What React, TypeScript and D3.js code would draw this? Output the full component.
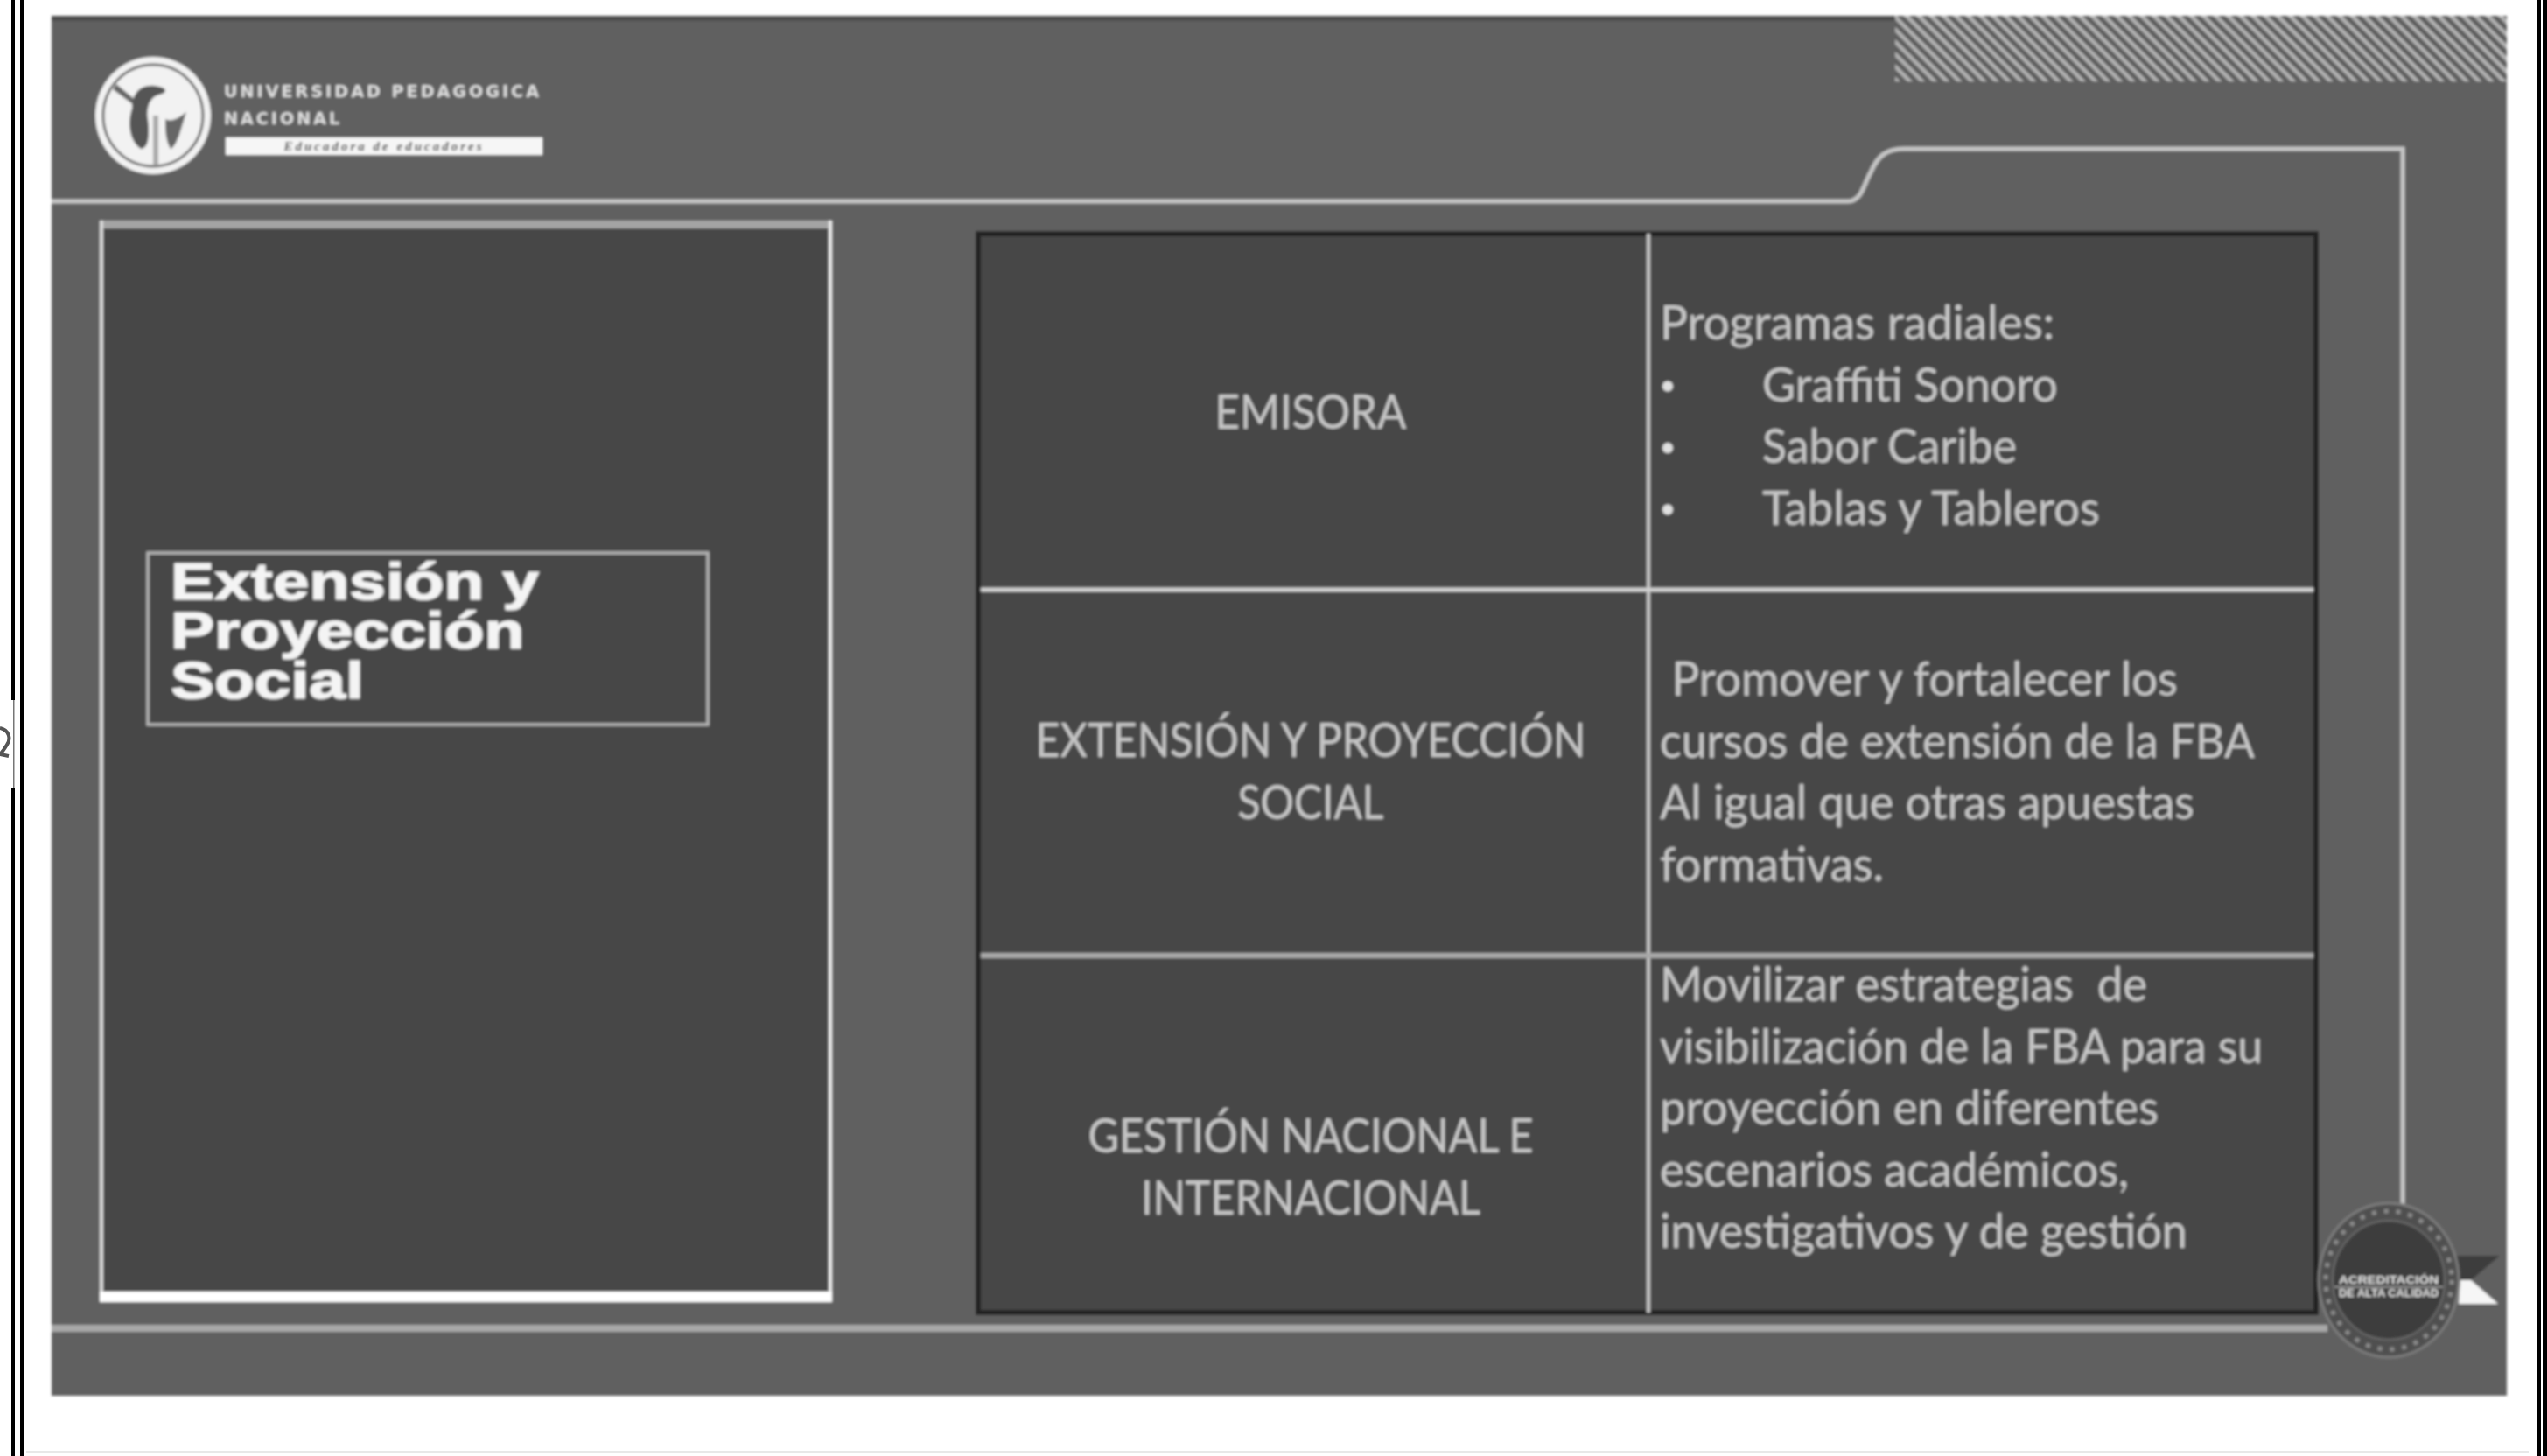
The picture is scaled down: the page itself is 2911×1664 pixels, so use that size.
import { useEffect, useRef } from "react";
import * as d3 from "d3";

// table content
const leftCells = [
  ["EMISORA"],
  ["EXTENSIÓN Y PROYECCIÓN", "SOCIAL"],
  ["GESTIÓN NACIONAL E", "INTERNACIONAL"],
];
const rightIntro = ["Programas radiales:"];
const radioPrograms = ["Graffiti Sonoro", "Sabor Caribe", "Tablas y Tableros"];
const rightMiddle = [
  " Promover y fortalecer los",
  "cursos de extensión de la FBA",
  "Al igual que otras apuestas",
  "formativas.",
];
const rightBottom = [
  "Movilizar estrategias  de",
  "visibilización de la FBA para su",
  "proyección en diferentes",
  "escenarios académicos,",
  "investigativos y de gestión",
];
const titleLines = ["Extensión y", "Proyección", "Social"];
const logoLines = ["UNIVERSIDAD PEDAGOGICA", "NACIONAL"];
const logoMotto = "Educadora de educadores";
const badgeLines = ["ACREDITACIÓN", "DE ALTA CALIDAD"];

const W = 2911;
const H = 1664;
const BODY_FONT = "Lato, 'Open Sans', sans-serif";
const HEAD_FONT = "'Liberation Sans', Arial, sans-serif";

const slide = { x0: 59, x1: 2865, y0: 18, y1: 1595 };
const panel = { x0: 116, x1: 949, y0: 257, y1: 1482 };
const table = { x0: 1118, x1: 2647, y0: 267, y1: 1500, split: 1884 };
const rowEdges = [267, 674, 1092, 1500];
const lineStep = 70.5;

// the slide font is narrower than Lato, so each line is fitted to its measured width
const lineWidth: Record<string, number> = {
  EMISORA: 219,
  "EXTENSIÓN Y PROYECCIÓN": 629,
  SOCIAL: 167,
  "GESTIÓN NACIONAL E": 509,
  INTERNACIONAL: 388,
  "Programas radiales:": 451,
  "Graffiti Sonoro": 338,
  "Sabor Caribe": 291,
  "Tablas y Tableros": 386,
  " Promover y fortalecer los": 592,
  "cursos de extensión de la FBA": 680,
  "Al igual que otras apuestas": 611,
  "formativas.": 256,
  "Movilizar estrategias  de": 557,
  "visibilización de la FBA para su": 689,
  "proyección en diferentes": 570,
  "escenarios académicos,": 536,
  "investigativos y de gestión": 603,
};

export default function App() {
  const ref = useRef<SVGSVGElement>(null);

  useEffect(() => {
    const svg = d3.select(ref.current);
    svg.selectAll("*").remove();

    const defs = svg.append("defs");
    defs
      .append("filter")
      .attr("id", "soft")
      .attr("x", "-5%")
      .attr("y", "-5%")
      .attr("width", "110%")
      .attr("height", "110%")
      .append("feGaussianBlur")
      .attr("stdDeviation", 1.5);
    const hatch = defs
      .append("pattern")
      .attr("id", "hatch")
      .attr("patternUnits", "userSpaceOnUse")
      .attr("width", 10)
      .attr("height", 10)
      .attr("patternTransform", "rotate(45)");
    hatch.append("rect").attr("width", 10).attr("height", 10).attr("fill", "#5c5c5c");
    hatch.append("rect").attr("width", 10).attr("height", 4.4).attr("fill", "#b4b4b4");

    svg.append("rect").attr("width", W).attr("height", H).attr("fill", "#fff");

    // scan frame lines on both page edges
    const frame = svg.append("g").attr("fill", "#000");
    frame.append("rect").attr("x", 13).attr("width", 4).attr("height", H);
    frame.append("rect").attr("x", 23).attr("width", 5).attr("height", H);
    frame.append("rect").attr("x", 2899).attr("width", 5).attr("height", H);
    frame.append("rect").attr("x", 2906).attr("width", 5).attr("height", H);
    svg.append("rect").attr("x", 30).attr("y", 1658).attr("width", 2860).attr("height", 2).attr("fill", "#e8e8e8");

    // torn bit of the scan on the left edge, the thin line breaks there
    svg.append("rect").attr("x", 11).attr("y", 800).attr("width", 8).attr("height", 100).attr("fill", "#fff");
    svg.append("rect").attr("x", 15).attr("y", 800).attr("width", 1.5).attr("height", 100).attr("fill", "#777");
    svg
      .append("path")
      .attr("d", "M0,832C10,834 13,844 8,851C5,856 2,860 0,862M0,862L10,864")
      .attr("fill", "none")
      .attr("stroke", "#555")
      .attr("stroke-width", 4);

    const g = svg.append("g").attr("filter", "url(#soft)");

    g.append("rect")
      .attr("x", slide.x0)
      .attr("y", slide.y0)
      .attr("width", slide.x1 - slide.x0)
      .attr("height", slide.y1 - slide.y0)
      .attr("fill", "#606060");
    g.append("rect")
      .attr("x", slide.x0)
      .attr("y", slide.y0)
      .attr("width", slide.x1 - slide.x0)
      .attr("height", 6)
      .attr("fill", "#4e4e4e");
    g.append("rect")
      .attr("x", 2166)
      .attr("y", slide.y0)
      .attr("width", slide.x1 - 2166)
      .attr("height", 75)
      .attr("fill", "url(#hatch)");

    // header rule with its step up, and the bottom rule
    const rule = d3
      .line<[number, number]>()
      .x((d) => d[0])
      .y((d) => d[1]);
    g.append("path")
      .attr(
        "d",
        `${rule([[slide.x0, 230], [2112, 230]])}C2128,230 2130,210 2138,197C2146,178 2156,170 2176,170${rule([[2176, 170], [2746, 170], [2746, 1390]])!.replace("M", "L")}`
      )
      .attr("fill", "none")
      .attr("stroke", "#c6c6c6")
      .attr("stroke-width", 5);
    g.append("path")
      .attr("d", rule([[slide.x0, 1518], [2660, 1518]]))
      .attr("fill", "none")
      .attr("stroke", "#a8a8a8")
      .attr("stroke-width", 8);

    // left panel
    g.append("rect")
      .attr("x", panel.x0)
      .attr("y", panel.y0)
      .attr("width", panel.x1 - panel.x0)
      .attr("height", panel.y1 - panel.y0)
      .attr("fill", "#464646");
    g.append("rect").attr("x", panel.x0 - 2).attr("y", 252).attr("width", panel.x1 - panel.x0 + 4).attr("height", 9).attr("fill", "#a4a4a4");
    g.append("rect").attr("x", panel.x0 - 2).attr("y", 252).attr("width", 4).attr("height", 1236).attr("fill", "#d8d8d8");
    g.append("rect").attr("x", panel.x1 - 2).attr("y", 252).attr("width", 4).attr("height", 1236).attr("fill", "#e8e8e8");
    g.append("rect").attr("x", panel.x0 - 2).attr("y", 1476).attr("width", panel.x1 - panel.x0 + 4).attr("height", 12).attr("fill", "#fff");

    g.append("rect")
      .attr("x", 169)
      .attr("y", 632)
      .attr("width", 640)
      .attr("height", 196)
      .attr("fill", "none")
      .attr("stroke", "#b4b4b4")
      .attr("stroke-width", 3.5);
    g.append("g")
      .attr("transform", "translate(195,0) scale(1.25,1)")
      .selectAll("text")
      .data(titleLines)
      .join("text")
      .attr("y", (_, i) => 685 + i * 56.5)
      .attr("font-family", HEAD_FONT)
      .attr("font-weight", 700)
      .attr("font-size", 60)
      .attr("fill", "#f4f4f4")
      .attr("stroke", "#f4f4f4")
      .attr("stroke-width", 1.2)
      .text((d) => d);

    // table
    g.append("rect")
      .attr("x", table.x0)
      .attr("y", table.y0)
      .attr("width", table.x1 - table.x0)
      .attr("height", table.y1 - table.y0)
      .attr("fill", "#464646")
      .attr("stroke", "#222")
      .attr("stroke-width", 6);
    g.append("line")
      .attr("x1", table.split)
      .attr("x2", table.split)
      .attr("y1", table.y0)
      .attr("y2", table.y1)
      .attr("stroke", "#c4c4c4")
      .attr("stroke-width", 4);
    g.selectAll("line.row")
      .data(rowEdges.slice(1, 3))
      .join("line")
      .attr("class", "row")
      .attr("x1", table.x0 + 3)
      .attr("x2", table.x1 - 3)
      .attr("y1", (d) => d)
      .attr("y2", (d) => d)
      .attr("stroke", (_, i) => (i === 0 ? "#d0d0d0" : "#a8a8a8"))
      .attr("stroke-width", (_, i) => (i === 0 ? 5 : 6));

    const bodyText = (sel: any) =>
      sel
        .attr("font-family", BODY_FONT)
        .attr("font-size", 54)
        .attr("fill", "#c6c6c6")
        .attr("textLength", (d: string) => lineWidth[d])
        .attr("lengthAdjust", "spacingAndGlyphs")
        .style("white-space", "pre");

    // left column, centred in the cell
    const leftBase = [490, 865, 1317];
    leftCells.forEach((lines, r) => {
      g.append("g")
        .selectAll("text")
        .data(lines)
        .join("text")
        .attr("x", 1498)
        .attr("y", (_, i) => leftBase[r] + i * lineStep)
        .attr("text-anchor", "middle")
        .call(bodyText)
        .text((d) => d);
    });

    // right column
    const rightX = 1897;
    const addLines = (lines: string[], first: number, x = rightX) =>
      g
        .append("g")
        .selectAll("text")
        .data(lines)
        .join("text")
        .attr("x", x)
        .attr("y", (_, i) => first + i * lineStep)
        .call(bodyText)
        .text((d) => d);
    addLines(rightIntro, 388);
    addLines(radioPrograms, 388 + lineStep, 2014);
    g.append("g")
      .selectAll("circle")
      .data(radioPrograms)
      .join("circle")
      .attr("cx", 1906)
      .attr("cy", (_, i) => 388 + (i + 1) * lineStep - 17)
      .attr("r", 6)
      .attr("fill", "#e0e0e0");
    addLines(rightMiddle, 795);
    addLines(rightBottom, 1144);

    // university logo
    const logo = g.append("g").attr("transform", "translate(175,132)");
    logo.append("ellipse").attr("rx", 66).attr("ry", 67).attr("fill", "#f2f2f2");
    logo.append("ellipse").attr("rx", 57).attr("ry", 58).attr("fill", "none").attr("stroke", "#666").attr("stroke-width", 3);
    logo
      .append("path")
      .attr("d", "M-46,-30L-22,-12L-18,-16L-42,-36Z")
      .attr("fill", "#666");
    logo
      .append("path")
      .attr("d", "M2,-34C-16,-36 -24,-24 -24,-8C-30,10 -26,30 -14,38C-4,38 -4,18 -6,4C-8,-8 -4,-22 8,-24C16,-26 18,-32 2,-34Z")
      .attr("fill", "#555");
    logo
      .append("path")
      .attr("d", "M14,4C22,8 30,2 38,-4L30,22C26,32 24,36 20,38C14,28 14,16 14,4Z")
      .attr("fill", "#666");
    logo.append("rect").attr("x", 0).attr("y", 0).attr("width", 6).attr("height", 56).attr("fill", "#aaa");

    g.append("g")
      .selectAll("text")
      .data(logoLines)
      .join("text")
      .attr("x", 256)
      .attr("y", (_, i) => 111 + i * 31)
      .attr("font-family", "'DejaVu Sans', sans-serif")
      .attr("font-weight", 700)
      .attr("font-size", 19)
      .attr("letter-spacing", 3.1)
      .attr("fill", "#dcdcdc")
      .text((d) => d);
    g.append("rect").attr("x", 258).attr("y", 157).attr("width", 362).attr("height", 20).attr("fill", "#f6f6f6");
    g.append("text")
      .attr("x", 439)
      .attr("y", 172)
      .attr("text-anchor", "middle")
      .attr("font-family", "'Liberation Serif', serif")
      .attr("font-style", "italic")
      .attr("font-weight", 700)
      .attr("font-size", 15)
      .attr("letter-spacing", 3)
      .attr("fill", "#333")
      .text(logoMotto);

    // accreditation badge
    const badge = g.append("g").attr("transform", "translate(2730,1463)");
    badge.append("path").attr("d", "M78,-28L127,-28L92,2L78,2Z").attr("fill", "#3e3e3e");
    badge.append("path").attr("d", "M80,27L125,27L94,0L82,0Z").attr("fill", "#f6f6f6");
    badge.append("ellipse").attr("rx", 80).attr("ry", 88).attr("fill", "#505050").attr("stroke", "#7c7c7c").attr("stroke-width", 3);
    badge.append("ellipse").attr("rx", 72).attr("ry", 79).attr("fill", "none").attr("stroke", "#8a8a8a").attr("stroke-width", 5).attr("stroke-dasharray", "5 9");
    badge.append("ellipse").attr("rx", 64).attr("ry", 68).attr("fill", "#3e3e3e").attr("stroke", "#6a6a6a").attr("stroke-width", 2);
    badge.append("rect").attr("x", -62).attr("y", 7).attr("width", 124).attr("height", 1.5).attr("fill", "#aaa");
    badge
      .append("g")
      .selectAll("text")
      .data(badgeLines)
      .join("text")
      .attr("y", (_, i) => 4 + i * 15)
      .attr("text-anchor", "middle")
      .attr("font-family", HEAD_FONT)
      .attr("font-weight", 700)
      .attr("font-size", 12.5)
      .attr("textLength", 114)
      .attr("lengthAdjust", "spacingAndGlyphs")
      .attr("fill", "#e4e4e4")
      .text((d) => d);
  }, []);

  return (
    <svg
      ref={ref}
      width={W}
      height={H}
      viewBox={`0 0 ${W} ${H}`}
      style={{ position: "absolute", left: 0, top: 0, display: "block" }}
    />
  );
}
